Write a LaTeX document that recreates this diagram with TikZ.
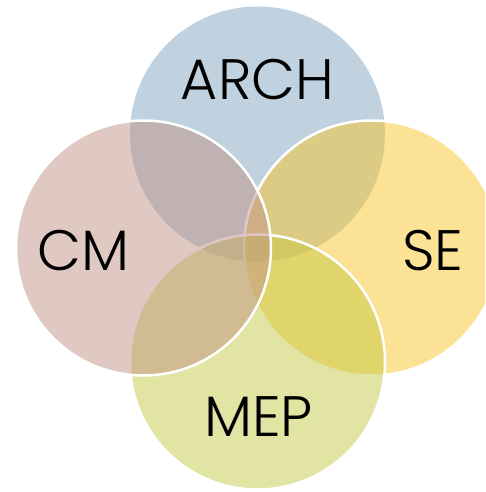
\documentclass[tikz,border=0pt]{standalone}
\usepackage{fontspec}
\newfontfamily\gfont{Poppins Light}
\definecolor{archc}{RGB}{129,165,193}
\definecolor{sec}{RGB}{249,197,41}
\definecolor{mepc}{RGB}{195,201,69}
\definecolor{cmc}{RGB}{193,147,133}
\tikzset{
  disc/.style={fill opacity=0.5, draw=white, draw opacity=1, line width=2.5pt},
  lab/.style={anchor=base, inner sep=0pt, font=\gfont\fontsize{57}{57}\selectfont, text=black}
}
\begin{document}
\begin{tikzpicture}[x=1pt,y=-1pt]
\useasboundingbox (0,0) rectangle (485,492);
\clip (0,0) rectangle (485,492);
\fill[archc, fill opacity=0.5] (257.5,134) circle[radius=127.5pt];
\filldraw[disc, fill=sec] (371.5,248) circle[radius=127.5pt];
\filldraw[disc, fill=mepc] (257.5,362) circle[radius=127.5pt];
\filldraw[disc, fill=cmc] (143.5,248) circle[radius=127.5pt];
\node[lab] (arch) at (257.5,100) {ARCH};
\node[lab] (cm) at (83.5,270) {CM};
\node[lab] (se) at (433,270) {SE};
\node[lab] (mep) at (258.5,436) {MEP};
\end{tikzpicture}
\end{document}
